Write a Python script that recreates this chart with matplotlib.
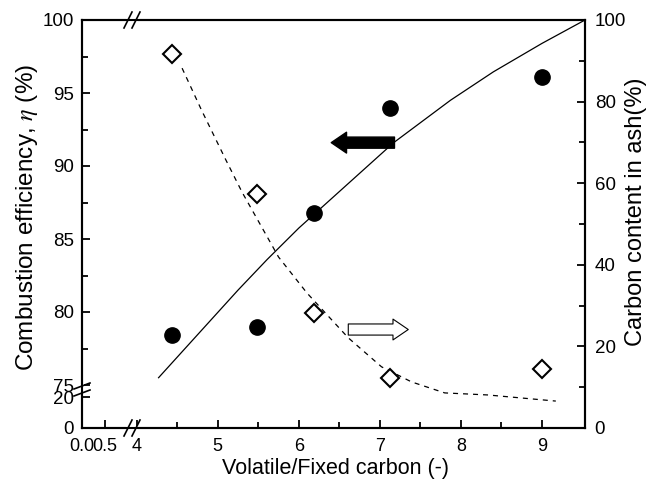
import numpy as np
import matplotlib
matplotlib.use("Agg")
import matplotlib.pyplot as plt

plt.rcParams['font.family'] = ['Liberation Sans', 'DejaVu Sans']
plt.rcParams['mathtext.fontset'] = 'stix'

# measured data
eff_x = [4.44, 5.48, 6.19, 7.13, 9.0]
eff_y = [78.4, 79.0, 86.8, 94.0, 96.1]
ash_x = [4.44, 5.48, 6.19, 7.13, 9.0]
ash_y = [91.7, 57.4, 28.2, 12.3, 14.5]

# fitted curves
fit_x = [4.27, 5.25, 5.61, 6.0, 6.74, 7.17, 7.87, 8.4, 9.0, 9.53]
fit_y = [75.5, 81.5, 83.6, 85.75, 89.45, 91.6, 94.5, 96.45, 98.4, 100.0]
dash_x = [4.56, 4.80, 5.10, 5.30, 5.75, 6.10, 6.61, 7.02, 7.39, 7.80, 8.33, 9.17]
dash_y = [88.2, 77.9, 65.7, 57.8, 41.9, 33.1, 22.1, 15.0, 11.3, 8.6, 8.1, 6.6]

x_ticks = [0, 0.5, 4, 5, 6, 7, 8, 9]
x_labels = ["0.0", "0.5", "4", "5", "6", "7", "8", "9"]
y_ticks = [0, 20, 75, 80, 85, 90, 95, 100]


# piecewise linear scales to get the broken axes
xk = [-100, 0, 1.0, 3.95, 100]
xt = [-4600, 0, 46, 50.9, 50.9 + 96.05 * 81.5]
yk = [-100, 0, 22, 75, 200]
yt = [-155, 0, 34.1, 43, 43 + 125 * 14.6]


def fx(v):
    return np.interp(v, xk, xt)


def ix(v):
    return np.interp(v, xt, xk)


def fy(v):
    return np.interp(v, yk, yt)


def iy(v):
    return np.interp(v, yt, yk)


fig = plt.figure(figsize=(6.56, 4.92), dpi=100)
ax = fig.add_axes([82 / 656, 1 - 428 / 492, 503 / 656, 408 / 492])
ax.set_xscale('function', functions=(fx, ix))
ax.set_yscale('function', functions=(fy, iy))
ax.set_xlim(0, 9.53)
ax.set_ylim(0, 100)

ax.plot(fit_x, fit_y, color='black', lw=0.9)
ax.plot(eff_x, eff_y, 'o', color='black', ms=11)

ax.set_xticks(x_ticks)
ax.set_xticklabels(x_labels)
ax.set_xticks([4.5, 5.5, 6.5, 7.5, 8.5], minor=True)
ax.set_yticks(y_ticks)
ax.set_yticks([77.5, 82.5, 87.5, 92.5, 97.5], minor=True)
ax.tick_params(which='both', direction='in', width=1.3, labelsize=13.5, top=False)
ax.tick_params(which='major', length=6)
ax.tick_params(which='minor', length=4)
ax.tick_params(axis='x', pad=7, labelsize=13)
ax.tick_params(axis='y', pad=6)
for s in ax.spines.values():
    s.set_linewidth(1.5)

ax.set_xlabel("Volatile/Fixed carbon (-)", fontsize=15.5)
ax.xaxis.set_label_coords(0.503, -0.073)
ax.set_ylabel(r"Combustion efficiency, $\eta$ (%)", fontsize=17.5)
ax.yaxis.set_label_coords(-0.083, 0.517)

ax2 = ax.twinx()
ax2.set_ylim(0, 100)
ax2.plot(dash_x, dash_y, color='black', lw=0.9, ls=(0, (4, 4)))
ax2.plot(ash_x, ash_y, 'D', mfc='white', mec='black', mew=1.5, ms=9.5)
ax2.set_yticks([0, 20, 40, 60, 80, 100])
ax2.set_yticks([10, 30, 50, 70, 90], minor=True)
ax2.tick_params(which='both', direction='in', width=1.3, labelsize=13.5, pad=7)
ax2.tick_params(which='major', length=6)
ax2.tick_params(which='minor', length=4)
ax2.set_ylabel("Carbon content in ash(%)", fontsize=17)
ax2.yaxis.set_label_coords(1.079, 0.53)
for s in ax2.spines.values():
    s.set_linewidth(1.5)

# arrows pointing to the matching axis
ax.annotate('', xy=(6.40, 91.6), xytext=(7.18, 91.6),
            arrowprops=dict(arrowstyle='simple,head_length=11,head_width=15,tail_width=8',
                            mutation_scale=1, fc='black', ec='black',
                            shrinkA=0, shrinkB=0))
ax.annotate('', xy=(7.35, 78.8), xytext=(6.61, 78.8),
            arrowprops=dict(arrowstyle='simple,head_length=11,head_width=15,tail_width=8',
                            mutation_scale=1, fc='white', ec='black', lw=0.8,
                            shrinkA=0, shrinkB=0))

# break marks
W, H = 503.0, 408.0
kw = dict(transform=ax.transAxes, clip_on=False, zorder=10)
for yb in (0, 1):
    ax.plot([(128 - 82) / W, (136 - 82) / W], [yb, yb], color='white', lw=3, **kw)
    for cx in (128, 136):
        c = (cx - 82) / W
        ax.plot([c - 4 / W, c + 4 / W], [yb - 8 / H, yb + 8 / H], color='black', lw=1.2, **kw)
ax.plot([0, 0], [35 / H, 42 / H], color='white', lw=3, **kw)
for ty in (35, 42):
    c = ty / H
    ax.plot([-8 / W, 8 / W], [c - 3 / H, c + 3 / H], color='black', lw=1.2, **kw)

fig.savefig('out.png', dpi=100)
